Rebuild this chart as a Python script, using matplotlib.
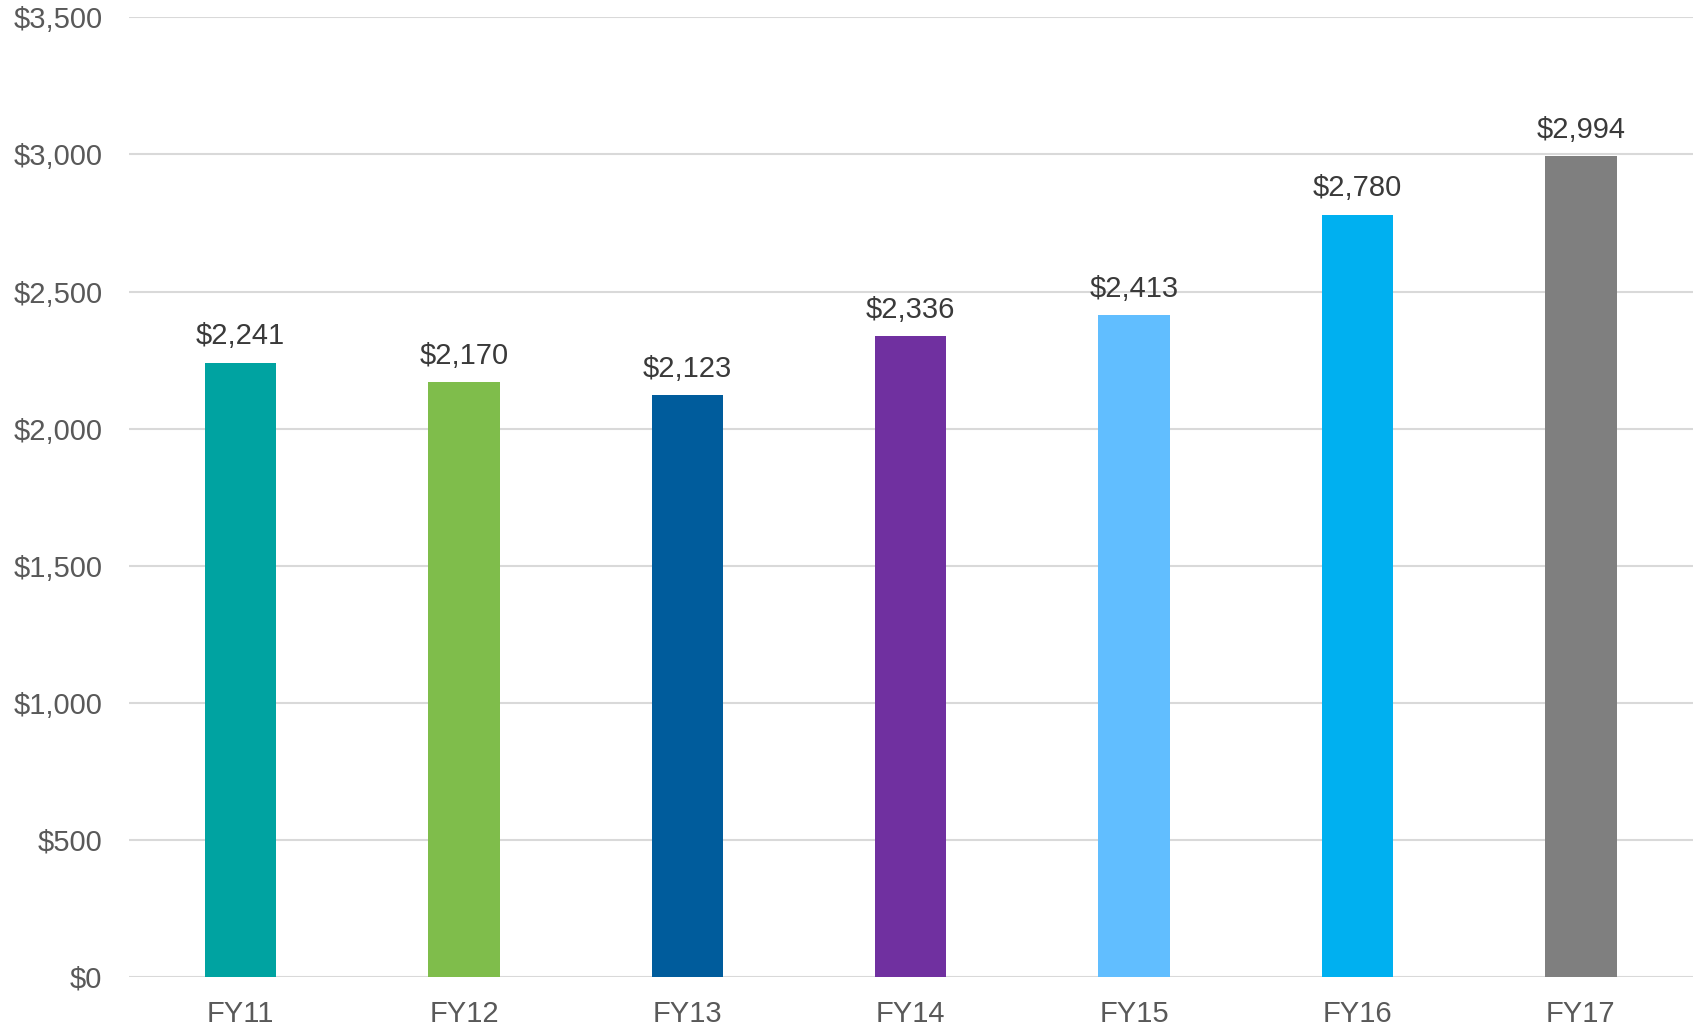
import matplotlib.pyplot as plt
from matplotlib.ticker import FuncFormatter

years = ['FY11', 'FY12', 'FY13', 'FY14', 'FY15', 'FY16', 'FY17']
values = [2241, 2170, 2123, 2336, 2413, 2780, 2994]
colors = ['#00A3A1', '#7FBD4B', '#005C9C', '#7030A0', '#61BEFF', '#00B0F0', '#7F7F7F']

plt.rcParams['font.family'] = ['Liberation Sans', 'DejaVu Sans']

fig = plt.figure(figsize=(16.96, 10.27), dpi=100)
ax = fig.add_axes([0.076, 0.049, 0.922, 0.934])

x = range(len(years))
bars = ax.bar(x, values, width=0.32, color=colors, zorder=3)
for i, v in enumerate(values):
    ax.text(i, v + 45, '${:,}'.format(v), ha='center', va='bottom',
            fontsize=21, color='#3A3A3A')

ax.set_xlim(-0.5, len(years) - 0.5)
ax.set_ylim(0, 3500)
ax.set_yticks(range(0, 3501, 500))
ax.yaxis.set_major_formatter(FuncFormatter(lambda v, p: '${:,.0f}'.format(v)))
ax.set_xticks(list(x))
ax.set_xticklabels(years)
ax.grid(axis='y', color='#D9D9D9', linewidth=1.5, zorder=0)
for s in ax.spines.values():
    s.set_visible(False)
ax.tick_params(length=0, labelsize=21, colors='#595959')
ax.tick_params(axis='y', pad=19)
ax.tick_params(axis='x', pad=17)

fig.savefig('out.png', dpi=100)
